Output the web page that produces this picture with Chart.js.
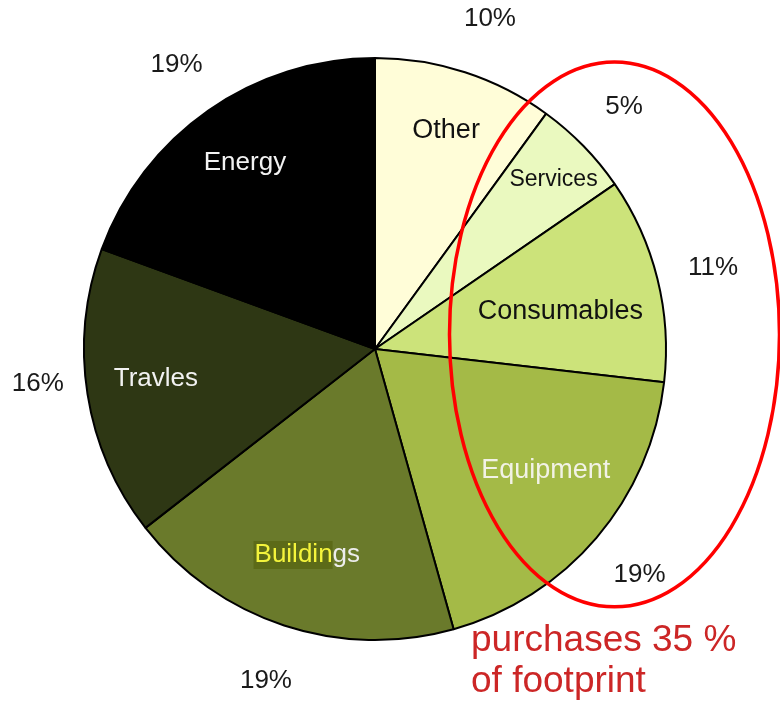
<!DOCTYPE html>
<html>
<head>
<meta charset="utf-8">
<script src="https://cdn.jsdelivr.net/npm/chart.js@4/dist/chart.umd.min.js"></script>
<style>
  html, body { margin: 0; padding: 0; background: #ffffff; }
  #wrap { width: 780px; height: 702px; position: relative; }
</style>
</head>
<body>
<div id="wrap"><canvas id="c" width="780" height="702"></canvas></div>
<script>
// ---- data ----
const categories = ['Other', 'Services', 'Consumables', 'Equipment', 'Buildings', 'Travles', 'Energy'];
const shares = [10, 5.4, 11.4, 18.8, 18.8, 16.1, 19.4];
const percentLabels = ['10%', '5%', '11%', '19%', '19%', '16%', '19%'];
const annotationLines = ['purchases 35 %', 'of footprint'];

// ---- styles ----
const sliceColors = ['#FFFDD8', '#EAF9BF', '#CCE37A', '#A4BA47', '#6A7A2B', '#2E3714', '#000000'];
const innerTextColors = ['#111111', '#111111', '#111111', '#F2F2E6', '#EDEDED', '#F2F2F2', '#F2F2F2'];
const innerRadiusFrac = [0.79, 0.845, 0.65, 0.72, 0.745, 0.76, 0.78];
const innerAngleShift = [0, 0.8, 2.5, -5, 0, 1.2, 0]; // degrees
const outerAngleShift = [1.2, 0, 0.4, 0, 0, 3, 0];   // degrees
const outerRadiusFrac = [1.2, 1.195, 1.195, 1.195, 1.2, 1.165, 1.19];
const innerFontSize = [27, 23, 27, 27, 26, 26, 26];

const labelPlugin = {
  id: 'sliceLabels',
  afterDatasetsDraw(chart) {
    const ctx = chart.ctx;
    const meta = chart.getDatasetMeta(0);
    ctx.save();
    ctx.textAlign = 'center';
    ctx.textBaseline = 'middle';
    let R = 0, cx = 0, cy = 0;
    meta.data.forEach((arc, i) => {
      const p = arc.getProps(['x', 'y', 'startAngle', 'endAngle', 'outerRadius'], true);
      R = p.outerRadius; cx = p.x; cy = p.y;
      const mid = (p.startAngle + p.endAngle) / 2;
      // outer percent label
      const ao = mid + outerAngleShift[i] * Math.PI / 180;
      const ro = R * outerRadiusFrac[i];
      ctx.font = '26px "Liberation Sans", Arial, sans-serif';
      ctx.fillStyle = '#1a1a1a';
      ctx.fillText(percentLabels[i], p.x + Math.cos(ao) * ro, p.y + Math.sin(ao) * ro);
      // inner category label
      const a = mid + innerAngleShift[i] * Math.PI / 180;
      const ri = R * innerRadiusFrac[i];
      const lx = p.x + Math.cos(a) * ri;
      const ly = p.y + Math.sin(a) * ri;
      ctx.font = innerFontSize[i] + 'px "Liberation Sans", Arial, sans-serif';
      const name = categories[i];
      if (name === 'Buildings') {
        const full = ctx.measureText(name).width;
        const part = name.slice(0, 7);
        const pw = ctx.measureText(part).width;
        const left = lx - full / 2;
        ctx.fillStyle = '#5C6A18';
        ctx.fillRect(left - 1, ly - 14, pw + 1, 28);
        ctx.textAlign = 'left';
        ctx.fillStyle = '#F4F43C';
        ctx.fillText(part, left, ly);
        ctx.fillStyle = innerTextColors[i];
        ctx.fillText(name.slice(7), left + pw, ly);
        ctx.textAlign = 'center';
      } else {
        ctx.fillStyle = innerTextColors[i];
        ctx.fillText(name, lx, ly);
      }
    });
    // red highlight ellipse around purchase-related slices
    ctx.beginPath();
    ctx.ellipse(cx + 0.823 * R, cy - 0.05 * R, 0.567 * R, 0.936 * R, 0, 0, Math.PI * 2);
    ctx.strokeStyle = '#FF0000';
    ctx.lineWidth = 3.5;
    ctx.stroke();
    // annotation text
    ctx.textAlign = 'left';
    ctx.textBaseline = 'alphabetic';
    ctx.font = '37px "Liberation Sans", Arial, sans-serif';
    ctx.fillStyle = '#CC2626';
    const tx = cx + 0.33 * R;
    ctx.fillText(annotationLines[0], tx, cy + 1.038 * R);
    ctx.fillText(annotationLines[1], tx, cy + 1.18 * R);
    ctx.restore();
  }
};

new Chart(document.getElementById('c'), {
  type: 'pie',
  data: {
    labels: categories,
    datasets: [{
      data: shares,
      backgroundColor: sliceColors,
      borderColor: '#000000',
      borderWidth: 2
    }]
  },
  options: {
    responsive: false,
    animation: false,
    layout: { padding: { left: 83, right: 113, top: 57, bottom: 61 } },
    plugins: {
      legend: { display: false },
      tooltip: { enabled: false }
    }
  },
  plugins: [labelPlugin]
});
</script>
</body>
</html>
